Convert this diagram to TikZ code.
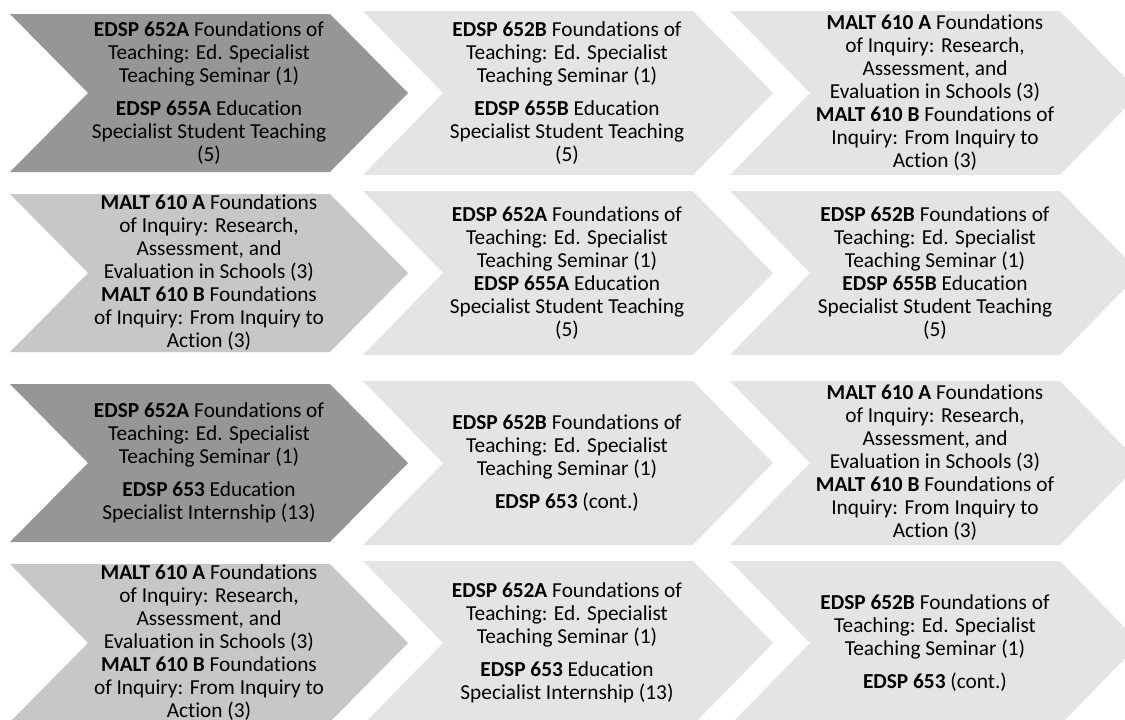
\documentclass[tikz,border=0pt]{standalone}
\usepackage{fontspec}
\setmainfont{Carlito}[Ligatures=NoCommon]
\usepackage{tikz}

\definecolor{stepdark}{RGB}{150,150,150}
\definecolor{stepmid}{RGB}{199,199,199}
\definecolor{steplight}{RGB}{228,228,228}

\begin{document}
\begin{tikzpicture}[x=0.75pt, y=-0.75pt,
    every node/.style={font=\fontsize{16}{17.25}\selectfont, align=center, inner sep=0pt},
    course/.style={text=black}]
                \useasboundingbox (0,0) rectangle (1125,719);
                \clip (0,0) rectangle (1125,719);

                % first column
                \foreach \y/\c in {93/stepdark, 273/stepmid, 463/stepdark, 643/stepmid} {
                    \fill[\c] (10,\y-79) -- ++(320,0) -- ++(78,79) -- ++(-78,79) -- ++(-320,0) -- ++(78,-79) -- cycle;
                }
                % second and third columns
                \foreach \l in {363, 730} {
                    \foreach \y in {93, 273, 463, 643} {
                        \fill[steplight] (\l,\y-82) -- ++(330,0) -- ++(80,82) -- ++(-80,82) -- ++(-330,0) -- ++(80,-82) -- cycle;
                    }
                }

                % row 1
                \node[course] (r1a) at (209,93) {\textbf{EDSP 652A} Foundations of\\Teaching: Ed. Specialist\\Teaching Seminar (1)\\[7.5pt]\textbf{EDSP 655A} Education\\Specialist Student Teaching\\(5)};
                \node[course] (r1b) at (567,93) {\textbf{EDSP 652B} Foundations of\\Teaching: Ed. Specialist\\Teaching Seminar (1)\\[7.5pt]\textbf{EDSP 655B} Education\\Specialist Student Teaching\\(5)};
                \node[course] (r1c) at (935,93) {\textbf{MALT 610 A} Foundations\\of Inquiry: Research,\\Assessment, and\\Evaluation in Schools (3)\\\textbf{MALT 610 B} Foundations of\\Inquiry: From Inquiry to\\Action (3)};

                % row 2
                \node[course] (r2a) at (209,273) {\textbf{MALT 610 A} Foundations\\of Inquiry: Research,\\Assessment, and\\Evaluation in Schools (3)\\\textbf{MALT 610 B} Foundations\\of Inquiry: From Inquiry to\\Action (3)};
                \node[course] (r2b) at (567,273) {\textbf{EDSP 652A} Foundations of\\Teaching: Ed. Specialist\\Teaching Seminar (1)\\\textbf{EDSP 655A} Education\\Specialist Student Teaching\\(5)};
                \node[course] (r2c) at (935,273) {\textbf{EDSP 652B} Foundations of\\Teaching: Ed. Specialist\\Teaching Seminar (1)\\\textbf{EDSP 655B} Education\\Specialist Student Teaching\\(5)};

                % row 3
                \node[course] (r3a) at (209,463) {\textbf{EDSP 652A} Foundations of\\Teaching: Ed. Specialist\\Teaching Seminar (1)\\[7.5pt]\textbf{EDSP 653} Education\\Specialist Internship (13)};
                \node[course] (r3b) at (567,463) {\textbf{EDSP 652B} Foundations of\\Teaching: Ed. Specialist\\Teaching Seminar (1)\\[7.5pt]\textbf{EDSP 653} (cont.)};
                \node[course] (r3c) at (935,463) {\textbf{MALT 610 A} Foundations\\of Inquiry: Research,\\Assessment, and\\Evaluation in Schools (3)\\\textbf{MALT 610 B} Foundations of\\Inquiry: From Inquiry to\\Action (3)};

                % row 4
                \node[course] (r4a) at (209,643) {\textbf{MALT 610 A} Foundations\\of Inquiry: Research,\\Assessment, and\\Evaluation in Schools (3)\\\textbf{MALT 610 B} Foundations\\of Inquiry: From Inquiry to\\Action (3)};
                \node[course] (r4b) at (567,643) {\textbf{EDSP 652A} Foundations of\\Teaching: Ed. Specialist\\Teaching Seminar (1)\\[7.5pt]\textbf{EDSP 653} Education\\Specialist Internship (13)};
                \node[course] (r4c) at (935,643) {\textbf{EDSP 652B} Foundations of\\Teaching: Ed. Specialist\\Teaching Seminar (1)\\[7.5pt]\textbf{EDSP 653} (cont.)};
            \end{tikzpicture}
\end{document}
